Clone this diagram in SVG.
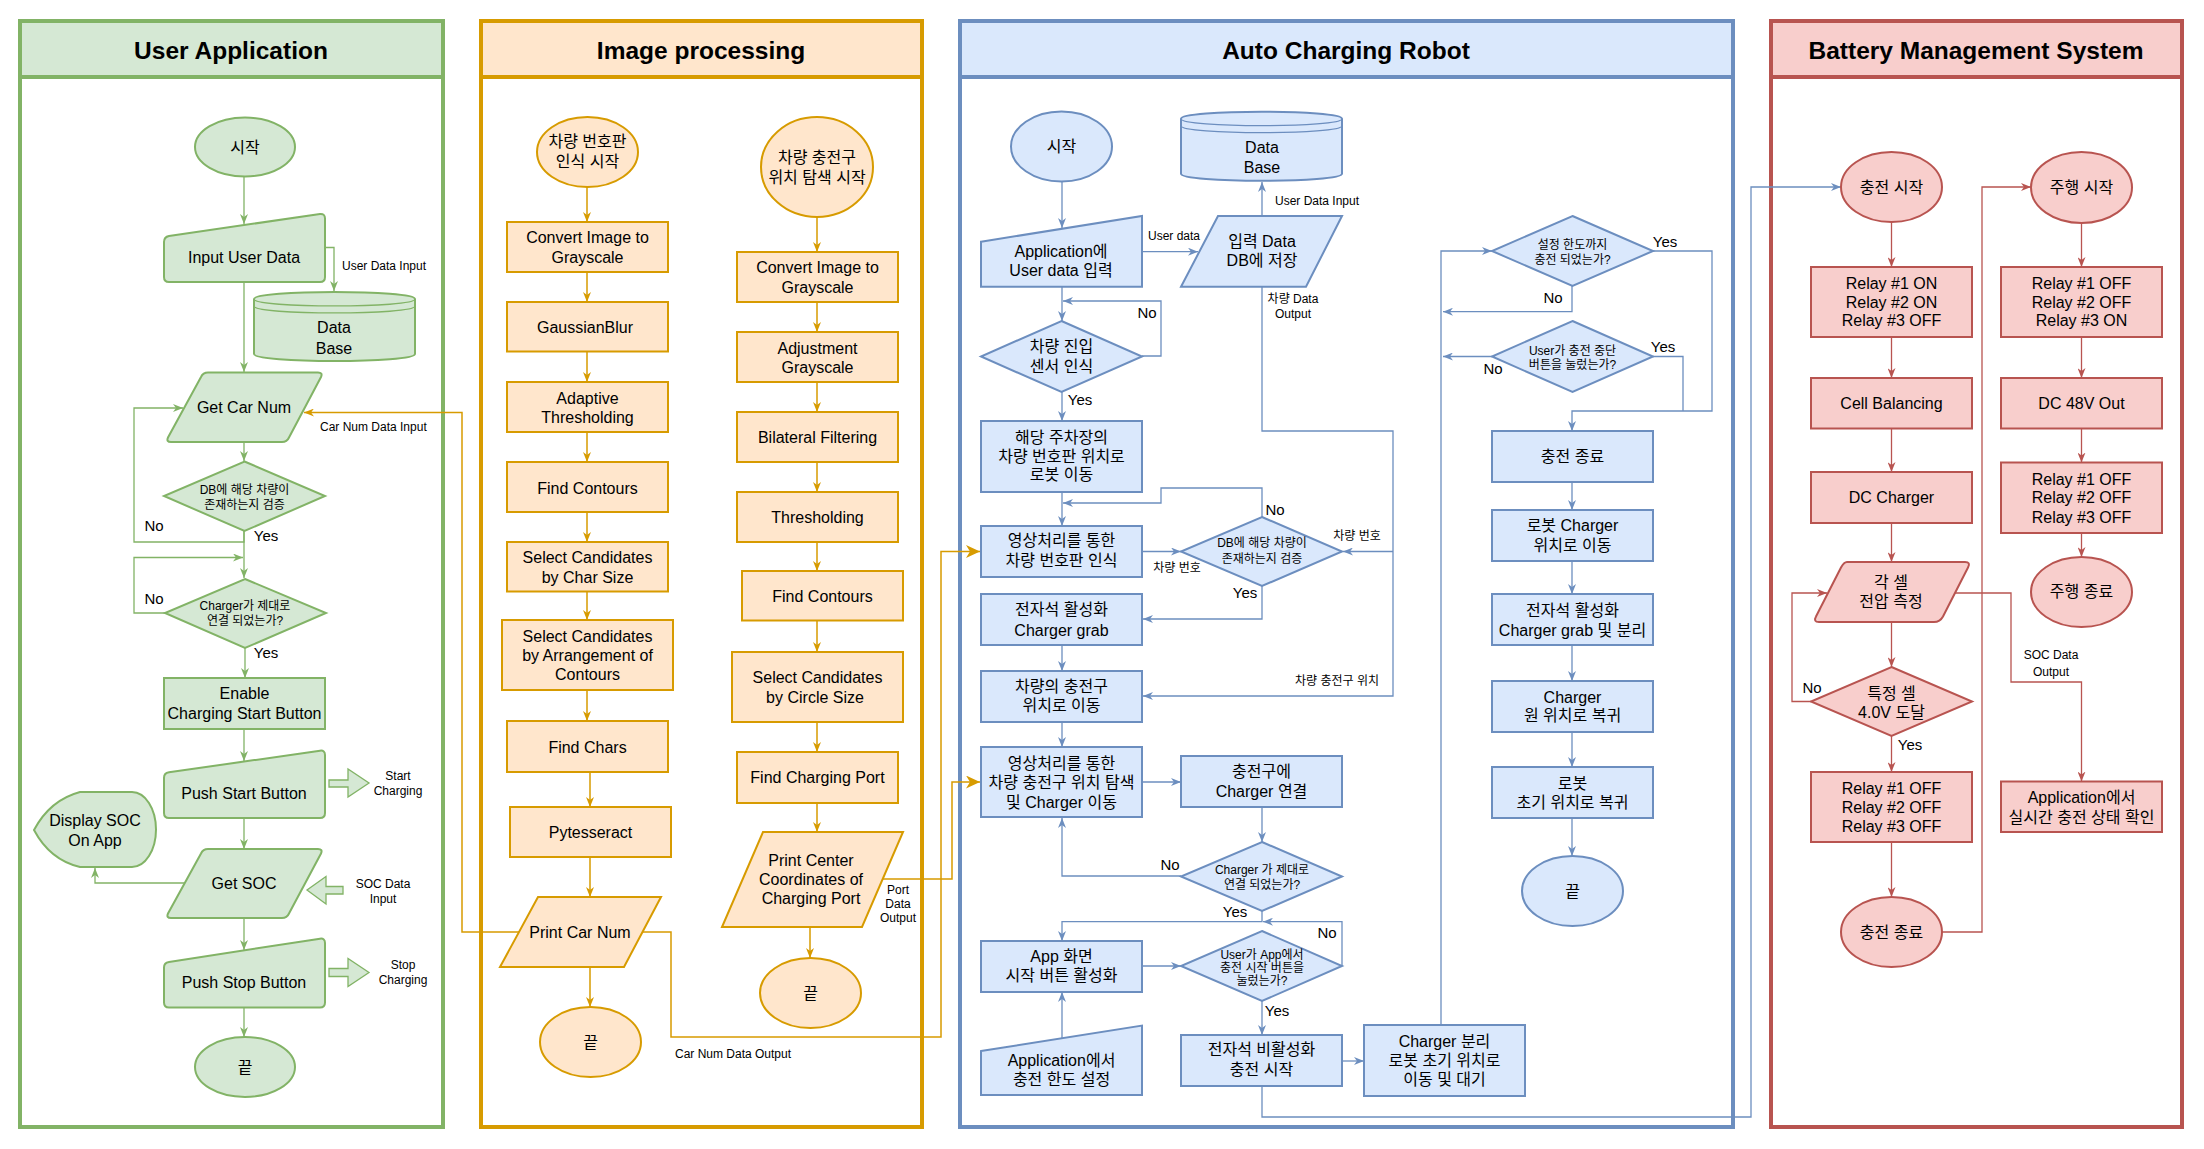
<svg xmlns="http://www.w3.org/2000/svg" width="2204" height="1149" viewBox="0 0 2204 1149">
<style>
text{font-family:'Liberation Sans','Noto Sans CJK KR',Arial,sans-serif;fill:#000}
.h{font-size:24.5px;font-weight:bold;text-anchor:middle;dominant-baseline:central}
.t{font-size:16px;text-anchor:middle;dominant-baseline:central}
.s{font-size:12px;text-anchor:middle;dominant-baseline:central}
.l{font-size:12px;text-anchor:start;dominant-baseline:central}
.yn{font-size:15px;text-anchor:middle;dominant-baseline:central}
.pg{fill:#d5e8d4;stroke:#82b366;stroke-width:2}
.po{fill:#ffe6cc;stroke:#d79b00;stroke-width:2}
.pb{fill:#dae8fc;stroke:#6c8ebf;stroke-width:2}
.pr{fill:#f8cecc;stroke:#b85450;stroke-width:2}
.cg{fill:none;stroke:#82b366;stroke-width:1.3}
.co{fill:none;stroke:#d79b00;stroke-width:1.5}
.cb{fill:none;stroke:#6c8ebf;stroke-width:1.3}
.cr{fill:none;stroke:#b85450;stroke-width:1.3}
.lane{fill:#fff;stroke-width:4}
</style>
<defs>
<marker id="aG" markerUnits="userSpaceOnUse" markerWidth="10" markerHeight="8" refX="10" refY="4" orient="auto" viewBox="0 0 10 8"><path d="M0,0 L10,4 L0,8 L3,4 Z" fill="#82b366"/></marker>
<marker id="aO" markerUnits="userSpaceOnUse" markerWidth="10" markerHeight="8" refX="10" refY="4" orient="auto" viewBox="0 0 10 8"><path d="M0,0 L10,4 L0,8 L3,4 Z" fill="#d79b00"/></marker>
<marker id="aO2" markerUnits="userSpaceOnUse" markerWidth="14" markerHeight="13" refX="14" refY="6.5" orient="auto" viewBox="0 0 14 13"><path d="M0,0 L14,6.5 L0,13 L4,6.5 Z" fill="#d79b00"/></marker>
<marker id="aB" markerUnits="userSpaceOnUse" markerWidth="10" markerHeight="8" refX="10" refY="4" orient="auto" viewBox="0 0 10 8"><path d="M0,0 L10,4 L0,8 L3,4 Z" fill="#6c8ebf"/></marker>
<marker id="aR" markerUnits="userSpaceOnUse" markerWidth="10" markerHeight="8" refX="10" refY="4" orient="auto" viewBox="0 0 10 8"><path d="M0,0 L10,4 L0,8 L3,4 Z" fill="#b85450"/></marker>
</defs>

<!-- Lanes -->
<g id="lane-user">
<rect class="lane" x="20" y="21" width="423" height="1106" stroke="#82b366"/>
<rect x="20" y="21" width="423" height="56" fill="#d5e8d4" stroke="#82b366" stroke-width="4"/>
<text class="h" x="231" y="50">User Application</text>
</g>
<g id="lane-image">
<rect class="lane" x="481" y="21" width="441" height="1106" stroke="#d79b00"/>
<rect x="481" y="21" width="441" height="56" fill="#ffe6cc" stroke="#d79b00" stroke-width="4"/>
<text class="h" x="701" y="50">Image processing</text>
</g>
<g id="lane-robot">
<rect class="lane" x="960" y="21" width="773" height="1106" stroke="#6c8ebf"/>
<rect x="960" y="21" width="773" height="56" fill="#dae8fc" stroke="#6c8ebf" stroke-width="4"/>
<text class="h" x="1346" y="50">Auto Charging Robot</text>
</g>
<g id="lane-bms">
<rect class="lane" x="1771" y="21" width="411" height="1106" stroke="#b85450"/>
<rect x="1771" y="21" width="411" height="56" fill="#f8cecc" stroke="#b85450" stroke-width="4"/>
<text class="h" x="1976" y="50">Battery Management System</text>
</g>

<!-- Connectors -->
<g id="connectors">
<!-- User app -->
<path class="cg" d="M244,177 L244,224" marker-end="url(#aG)"/>
<path class="cg" d="M244,282 L244,372" marker-end="url(#aG)"/>
<path class="cg" d="M325,247.5 L334,247.5 L334,291" marker-end="url(#aG)"/>
<path class="cg" d="M244,442 L244,461" marker-end="url(#aG)"/>
<path class="cg" d="M244,531 L244,542 L134,542 L134,408 L183,408" marker-end="url(#aG)"/>
<path class="cg" d="M244,531 L244,578" marker-end="url(#aG)"/>
<path class="cg" d="M165,613 L134,613 L134,557.5 L243,557.5" marker-end="url(#aG)"/>
<path class="cg" d="M245,648 L245,678" marker-end="url(#aG)"/>
<path class="cg" d="M244,729 L244,761" marker-end="url(#aG)"/>
<path class="cg" d="M244,818 L244,849" marker-end="url(#aG)"/>
<path class="cg" d="M244,918 L244,950" marker-end="url(#aG)"/>
<path class="cg" d="M244,1008 L244,1037" marker-end="url(#aG)"/>
<path class="cg" d="M185,883 L95,883 L95,868" marker-end="url(#aG)"/>
<path d="M329,780 L348,780 L348,769 L369,783 L348,797 L348,787 L329,787 Z" fill="#d5e8d4" stroke="#82b366" stroke-width="1.3"/>
<path d="M329,968.5 L348,968.5 L348,958.5 L369,972.5 L348,986.5 L348,976.5 L329,976.5 Z" fill="#d5e8d4" stroke="#82b366" stroke-width="1.3"/>
<path d="M343,886.5 L326,886.5 L326,876.5 L307,890 L326,904 L326,894 L343,894 Z" fill="#d5e8d4" stroke="#82b366" stroke-width="1.3"/>
<!-- Image processing -->
<path class="co" d="M587,187 L587,222" marker-end="url(#aO)"/>
<path class="co" d="M587,272 L587,302" marker-end="url(#aO)"/>
<path class="co" d="M587,351.5 L587,382" marker-end="url(#aO)"/>
<path class="co" d="M587,432 L587,462" marker-end="url(#aO)"/>
<path class="co" d="M587,512 L587,542" marker-end="url(#aO)"/>
<path class="co" d="M587,591.5 L587,620" marker-end="url(#aO)"/>
<path class="co" d="M587,690 L587,721" marker-end="url(#aO)"/>
<path class="co" d="M590,772 L590,807" marker-end="url(#aO)"/>
<path class="co" d="M590,857 L590,897" marker-end="url(#aO)"/>
<path class="co" d="M590,967 L590,1007" marker-end="url(#aO)"/>
<path class="co" d="M817,217 L817,252" marker-end="url(#aO)"/>
<path class="co" d="M817,302 L817,332" marker-end="url(#aO)"/>
<path class="co" d="M817,382 L817,412" marker-end="url(#aO)"/>
<path class="co" d="M817,462 L817,492" marker-end="url(#aO)"/>
<path class="co" d="M817,542 L817,571" marker-end="url(#aO)"/>
<path class="co" d="M817,620.5 L817,652" marker-end="url(#aO)"/>
<path class="co" d="M817,722 L817,752" marker-end="url(#aO)"/>
<path class="co" d="M817,803 L817,832" marker-end="url(#aO)"/>
<path class="co" d="M810,927 L810,958" marker-end="url(#aO)"/>
<path class="co" d="M519,932 L462,932 L462,412.5 L304,412.5" marker-end="url(#aO)"/>
<path class="co" d="M643,932 L671,932 L671,1037 L941,1037 L941,551.5 L980,551.5" marker-end="url(#aO2)"/>
<path class="co" d="M883,879 L952,879 L952,782 L980,782" marker-end="url(#aO2)"/>
<!-- Robot -->
<path class="cb" d="M1062,181 L1062,228" marker-end="url(#aB)"/>
<path class="cb" d="M1142,251.7 L1198,251.7" marker-end="url(#aB)"/>
<path class="cb" d="M1262,216 L1262,182" marker-end="url(#aB)"/>
<path class="cb" d="M1262,287 L1262,431 L1393,431 L1393,696 L1143,696" marker-end="url(#aB)"/>
<path class="cb" d="M1393,551.5 L1343,551.5" marker-end="url(#aB)"/>
<path class="cb" d="M1062,287 L1062,321" marker-end="url(#aB)"/>
<path class="cb" d="M1142,356 L1161,356 L1161,301 L1063,301" marker-end="url(#aB)"/>
<path class="cb" d="M1062,392 L1062,421" marker-end="url(#aB)"/>
<path class="cb" d="M1062,492 L1062,526" marker-end="url(#aB)"/>
<path class="cb" d="M1262,517 L1262,488 L1161,488 L1161,503 L1063,503" marker-end="url(#aB)"/>
<path class="cb" d="M1142,551.5 L1181,551.5" marker-end="url(#aB)"/>
<path class="cb" d="M1262,586 L1262,619 L1143,619" marker-end="url(#aB)"/>
<path class="cb" d="M1062,645 L1062,671" marker-end="url(#aB)"/>
<path class="cb" d="M1062,722 L1062,747" marker-end="url(#aB)"/>
<path class="cb" d="M1142,782 L1181,782" marker-end="url(#aB)"/>
<path class="cb" d="M1262,807 L1262,842" marker-end="url(#aB)"/>
<path class="cb" d="M1181,876 L1062,876 L1062,818" marker-end="url(#aB)"/>
<path class="cb" d="M1262,911 L1262,921.7 L1062,921.7 L1062,941" marker-end="url(#aB)"/>
<path class="cb" d="M1342,966 L1342,921.7 L1263,921.7" marker-end="url(#aB)"/>
<path class="cb" d="M1142,966 L1181,966" marker-end="url(#aB)"/>
<path class="cb" d="M1262,1001 L1262,1035" marker-end="url(#aB)"/>
<path class="cb" d="M1342,1061 L1364,1061" marker-end="url(#aB)"/>
<path class="cb" d="M1062,1038 L1062,992" marker-end="url(#aB)"/>
<path class="cb" d="M1441,1025 L1441,251 L1492,251" marker-end="url(#aB)" stroke="#9fb8dc"/>
<path class="cb" d="M1572,286 L1572,311.7 L1443,311.7" marker-end="url(#aB)"/>
<path class="cb" d="M1492,356.5 L1443,356.5" marker-end="url(#aB)"/>
<path class="cb" d="M1653,251 L1712,251 L1712,411 L1572,411 L1572,431" marker-end="url(#aB)"/>
<path class="cb" d="M1653,356.5 L1683,356.5 L1683,411"/>
<path class="cb" d="M1572,482 L1572,510" marker-end="url(#aB)"/>
<path class="cb" d="M1572,561 L1572,594" marker-end="url(#aB)"/>
<path class="cb" d="M1572,645 L1572,681" marker-end="url(#aB)"/>
<path class="cb" d="M1572,732 L1572,767" marker-end="url(#aB)"/>
<path class="cb" d="M1572,818 L1572,856" marker-end="url(#aB)"/>
<path class="cb" d="M1262,1086 L1262,1117 L1751,1117 L1751,187 L1841,187" marker-end="url(#aB)"/>
<!-- BMS -->
<path class="cr" d="M1891.5,222 L1891.5,267" marker-end="url(#aR)"/>
<path class="cr" d="M1891.5,337 L1891.5,378" marker-end="url(#aR)"/>
<path class="cr" d="M1891.5,428.5 L1891.5,472" marker-end="url(#aR)"/>
<path class="cr" d="M1891.5,523 L1891.5,562" marker-end="url(#aR)"/>
<path class="cr" d="M1891.5,622 L1891.5,667" marker-end="url(#aR)"/>
<path class="cr" d="M1891.5,736 L1891.5,772" marker-end="url(#aR)"/>
<path class="cr" d="M1891.5,842 L1891.5,897" marker-end="url(#aR)"/>
<path class="cr" d="M1811,701.5 L1792,701.5 L1792,593 L1827,593" marker-end="url(#aR)"/>
<path class="cr" d="M1942,932 L1982,932 L1982,187 L2031,187" marker-end="url(#aR)"/>
<path class="cr" d="M2081.5,223 L2081.5,267" marker-end="url(#aR)"/>
<path class="cr" d="M2081.5,337 L2081.5,378" marker-end="url(#aR)"/>
<path class="cr" d="M2081.5,428.5 L2081.5,462.5" marker-end="url(#aR)"/>
<path class="cr" d="M2081.5,533 L2081.5,557" marker-end="url(#aR)"/>
<path class="cr" d="M1954,593 L2011,593 L2011,682 L2081.5,682 L2081.5,781.5" marker-end="url(#aR)"/>
<!-- connector labels -->
<text class="l" x="342" y="266">User Data Input</text>
<text class="l" x="320" y="426.5">Car Num Data Input</text>
<text class="yn" x="154" y="525">No</text>
<text class="yn" x="266" y="535">Yes</text>
<text class="yn" x="154" y="598">No</text>
<text class="yn" x="266" y="652">Yes</text>
<text class="s" x="398" y="776">Start</text>
<text class="s" x="398" y="791">Charging</text>
<text class="s" x="383" y="884">SOC Data</text>
<text class="s" x="383" y="899">Input</text>
<text class="s" x="403" y="965">Stop</text>
<text class="s" x="403" y="980">Charging</text>
<text class="l" x="675" y="1054">Car Num Data Output</text>
<text class="s" x="898" y="889.5">Port</text>
<text class="s" x="898" y="903.5">Data</text>
<text class="s" x="898" y="918">Output</text>
<text class="l" x="1148" y="235.7">User data</text>
<text class="l" x="1275" y="200.7">User Data Input</text>
<text class="s" x="1293" y="299">차량 Data</text>
<text class="s" x="1293" y="314">Output</text>
<text class="yn" x="1147" y="312">No</text>
<text class="yn" x="1080" y="399">Yes</text>
<text class="yn" x="1275" y="509">No</text>
<text class="s" x="1177" y="568">차량 번호</text>
<text class="s" x="1357" y="536">차량 번호</text>
<text class="yn" x="1245" y="592">Yes</text>
<text class="s" x="1337" y="681">차량 충전구 위치</text>
<text class="yn" x="1170" y="864">No</text>
<text class="yn" x="1235" y="911">Yes</text>
<text class="yn" x="1327" y="932">No</text>
<text class="yn" x="1277" y="1010">Yes</text>
<text class="yn" x="1665" y="241">Yes</text>
<text class="yn" x="1553" y="297">No</text>
<text class="yn" x="1663" y="346.7">Yes</text>
<text class="yn" x="1493" y="368">No</text>
<text class="yn" x="1812" y="687">No</text>
<text class="yn" x="1910" y="744">Yes</text>
<text class="s" x="2051" y="655">SOC Data</text>
<text class="s" x="2051" y="671.6">Output</text>
</g>

<!-- User Application nodes -->
<g id="u-start"><ellipse class="pg" cx="245" cy="147" rx="50" ry="29.5"/><text class="t" x="245" y="147">시작</text></g>
<g id="u-input"><path class="pg" d="M164,242 Q164,237 169,236 L320,214 Q325,213.5 325,218.5 L325,277 Q325,282 320,282 L169,282 Q164,282 164,277 Z"/><text class="t" x="244" y="257">Input User Data</text></g>
<g id="u-db"><path class="pg" d="M254,299 C254,289.7 415,289.7 415,299 L415,354 C415,363.3 254,363.3 254,354 Z"/><path fill="none" stroke="#82b366" stroke-width="1.3" d="M254,299 C254,308.3 415,308.3 415,299 M254,306 C254,315.3 415,315.3 415,306"/><text class="t" x="334" y="327">Data</text><text class="t" x="334" y="348">Base</text></g>
<g id="u-getcar"><path class="pg" d="M208,372.5 L318,372.5 Q323,372.5 321,377 L289,437.5 Q287,442 282,442 L171,442 Q166,442 168,437.5 L201,377 Q203,372.5 208,372.5 Z"/><text class="t" x="244" y="407">Get Car Num</text></g>
<g id="u-dec1"><path class="pg" d="M244.5,461.5 L325,496 L244.5,531 L164,496 Z"/><text class="s" x="244.5" y="490">DB에 해당 차량이</text><text class="s" x="244.5" y="504.5">존재하는지 검증</text></g>
<g id="u-dec2"><path class="pg" d="M245,579 L326,613 L245,648 L165,613 Z"/><text class="s" x="245" y="606">Charger가 제대로</text><text class="s" x="245" y="620.5">연결 되었는가?</text></g>
<g id="u-enable"><rect class="pg" x="164" y="678" width="161" height="51"/><text class="t" x="244.5" y="693">Enable</text><text class="t" x="244.5" y="713">Charging Start Button</text></g>
<g id="u-pushstart"><path class="pg" d="M164,778 Q164,773 169,772.3 L320,750.7 Q325,750 325,755 L325,813 Q325,818 320,818 L169,818 Q164,818 164,813 Z"/><text class="t" x="244" y="793">Push Start Button</text></g>
<g id="u-display"><path class="pg" d="M80,792 L132,792 A24,37.5 0 0 1 132,867 L80,867 Q50,860 34,830 Q50,800 80,792 Z"/><text class="t" x="95" y="820">Display SOC</text><text class="t" x="95" y="840">On App</text></g>
<g id="u-getsoc"><path class="pg" d="M208,849 L318,849 Q323,849 321,853.5 L289,913.5 Q287,918 282,918 L171,918 Q166,918 168,913.5 L201,853.5 Q203,849 208,849 Z"/><text class="t" x="244" y="883">Get SOC</text></g>
<g id="u-pushstop"><path class="pg" d="M164,967.5 Q164,962.6 169,961.9 L320,938.7 Q325,938 325,943 L325,1002.6 Q325,1007.6 320,1007.6 L169,1007.6 Q164,1007.6 164,1002.6 Z"/><text class="t" x="244" y="982">Push Stop Button</text></g>
<g id="u-end"><ellipse class="pg" cx="245" cy="1067" rx="50" ry="30"/><text class="t" x="245" y="1067">끝</text></g>

<!-- Image processing nodes -->
<g id="i-start1"><ellipse class="po" cx="587.5" cy="152" rx="50.5" ry="35"/><text class="t" x="587.5" y="141.7">차량 번호판</text><text class="t" x="587.5" y="161.7">인식 시작</text></g>
<g id="i-gray1"><rect class="po" x="507" y="222" width="161" height="50"/><text class="t" x="587.5" y="237">Convert Image to</text><text class="t" x="587.5" y="257">Grayscale</text></g>
<g id="i-blur"><rect class="po" x="507" y="302" width="161" height="49.5"/><text class="t" x="585" y="327.5">GaussianBlur</text></g>
<g id="i-adapt"><rect class="po" x="507" y="382" width="161" height="50"/><text class="t" x="587.5" y="398">Adaptive</text><text class="t" x="587.5" y="417">Thresholding</text></g>
<g id="i-cont1"><rect class="po" x="507" y="462" width="161" height="50"/><text class="t" x="587.5" y="488">Find Contours</text></g>
<g id="i-charsize"><rect class="po" x="507" y="542" width="161" height="49.5"/><text class="t" x="587.5" y="557">Select Candidates</text><text class="t" x="587.5" y="577">by Char Size</text></g>
<g id="i-arrange"><rect class="po" x="502" y="620" width="171" height="70"/><text class="t" x="587.5" y="636">Select Candidates</text><text class="t" x="587.5" y="655">by Arrangement of</text><text class="t" x="587.5" y="674.5">Contours</text></g>
<g id="i-chars"><rect class="po" x="507" y="721" width="161" height="51"/><text class="t" x="587.5" y="747">Find Chars</text></g>
<g id="i-tess"><rect class="po" x="510" y="807" width="161" height="50"/><text class="t" x="590.5" y="832">Pytesseract</text></g>
<g id="i-printcar"><path class="po" d="M538,897 L661,897 L624,967 L500,967 Z"/><text class="t" x="580" y="932">Print Car Num</text></g>
<g id="i-end1"><ellipse class="po" cx="590.5" cy="1042" rx="50.5" ry="35"/><text class="t" x="590.5" y="1042">끝</text></g>
<g id="i-start2"><ellipse class="po" cx="817" cy="167" rx="56" ry="50"/><text class="t" x="817" y="157">차량 충전구</text><text class="t" x="817" y="177">위치 탐색 시작</text></g>
<g id="i-gray2"><rect class="po" x="737" y="252" width="161" height="50"/><text class="t" x="817.5" y="267.5">Convert Image to</text><text class="t" x="817.5" y="287.5">Grayscale</text></g>
<g id="i-adj"><rect class="po" x="737" y="332" width="161" height="50"/><text class="t" x="817.5" y="348">Adjustment</text><text class="t" x="817.5" y="367">Grayscale</text></g>
<g id="i-bilat"><rect class="po" x="737" y="412" width="161" height="50"/><text class="t" x="817.5" y="437.5">Bilateral Filtering</text></g>
<g id="i-thr"><rect class="po" x="737" y="492" width="161" height="50"/><text class="t" x="817.5" y="517">Thresholding</text></g>
<g id="i-cont2"><rect class="po" x="742" y="571" width="161" height="49.5"/><text class="t" x="822.5" y="596">Find Contours</text></g>
<g id="i-circle"><rect class="po" x="732" y="652" width="171" height="70"/><text class="t" x="817.5" y="677">Select Candidates</text><text class="t" x="815" y="697">by Circle Size</text></g>
<g id="i-port"><rect class="po" x="737" y="752" width="161" height="51"/><text class="t" x="817.5" y="777.5">Find Charging Port</text></g>
<g id="i-printport"><path class="po" d="M763,832 L903,832 L862,927 L722,927 Z"/><text class="t" x="811" y="860.5">Print Center</text><text class="t" x="811" y="879">Coordinates of</text><text class="t" x="811" y="898">Charging Port</text></g>
<g id="i-end2"><ellipse class="po" cx="810.5" cy="993" rx="50.5" ry="35"/><text class="t" x="810.5" y="993">끝</text></g>

<!-- Robot nodes -->
<g id="r-start"><ellipse class="pb" cx="1061.5" cy="146.5" rx="50.5" ry="35"/><text class="t" x="1061.5" y="146.5">시작</text></g>
<g id="r-db"><path class="pb" d="M1181,118.7 C1181,109.4 1342,109.4 1342,118.7 L1342,173.7 C1342,183 1181,183 1181,173.7 Z"/><path fill="none" stroke="#6c8ebf" stroke-width="1.3" d="M1181,118.7 C1181,128 1342,128 1342,118.7 M1181,125.7 C1181,135 1342,135 1342,125.7"/><text class="t" x="1262" y="147">Data</text><text class="t" x="1262" y="167">Base</text></g>
<g id="r-appinput"><path class="pb" d="M981,241.7 L1142,216 L1142,286.7 L981,286.7 Z"/><text class="t" x="1061" y="251.7">Application에</text><text class="t" x="1061" y="270.7">User data 입력</text></g>
<g id="r-save"><path class="pb" d="M1218,216 L1342,216 L1306,286.7 L1181,286.7 Z"/><text class="t" x="1262" y="241.7">입력 Data</text><text class="t" x="1262" y="260.7">DB에 저장</text></g>
<g id="r-sensor"><path class="pb" d="M1061.5,321 L1142,356.5 L1061.5,392 L981,356.5 Z"/><text class="t" x="1061.5" y="346">차량 진입</text><text class="t" x="1061.5" y="366.7">센서 인식</text></g>
<g id="r-move1"><rect class="pb" x="981" y="421" width="161" height="71"/><text class="t" x="1061.5" y="437">해당 주차장의</text><text class="t" x="1061.5" y="456">차량 번호판 위치로</text><text class="t" x="1061.5" y="474.5">로봇 이동</text></g>
<g id="r-plate"><rect class="pb" x="981" y="526" width="161" height="51"/><text class="t" x="1061.5" y="540.7">영상처리를 통한</text><text class="t" x="1061.5" y="560.7">차량 번호판 인식</text></g>
<g id="r-dbcheck"><path class="pb" d="M1262,517 L1342,551.5 L1262,586 L1181,551.5 Z"/><text class="s" x="1262" y="543">DB에 해당 차량이</text><text class="s" x="1262" y="559">존재하는지 검증</text></g>
<g id="r-grab"><rect class="pb" x="981" y="594" width="161" height="51"/><text class="t" x="1061.5" y="609.6">전자석 활성화</text><text class="t" x="1061.5" y="630">Charger grab</text></g>
<g id="r-moveport"><rect class="pb" x="981" y="671" width="161" height="51"/><text class="t" x="1061.5" y="686">차량의 충전구</text><text class="t" x="1061.5" y="705.7">위치로 이동</text></g>
<g id="r-portdetect"><rect class="pb" x="981" y="747" width="161" height="70"/><text class="t" x="1061.5" y="763">영상처리를 통한</text><text class="t" x="1061.5" y="782">차량 충전구 위치 탐색</text><text class="t" x="1061.5" y="802">및 Charger 이동</text></g>
<g id="r-connect"><rect class="pb" x="1181" y="756" width="161" height="51"/><text class="t" x="1261.5" y="771">충전구에</text><text class="t" x="1261.5" y="791">Charger 연결</text></g>
<g id="r-conncheck"><path class="pb" d="M1262,842 L1342,876.5 L1262,911 L1181,876.5 Z"/><text class="s" x="1262" y="870">Charger 가 제대로</text><text class="s" x="1262" y="885">연결 되었는가?</text></g>
<g id="r-appbtn"><rect class="pb" x="981" y="941" width="161" height="51"/><text class="t" x="1061.5" y="956">App 화면</text><text class="t" x="1061.5" y="975">시작 버튼 활성화</text></g>
<g id="r-btncheck"><path class="pb" d="M1262,931 L1342,966 L1262,1001 L1181,966 Z"/><text class="s" x="1262" y="955">User가 App에서</text><text class="s" x="1262" y="967.5">충전 시작 버튼을</text><text class="s" x="1262" y="980.5">눌렀는가?</text></g>
<g id="r-limit"><path class="pb" d="M981,1051 L1142,1025.6 L1142,1095 L981,1095 Z"/><text class="t" x="1061.5" y="1060">Application에서</text><text class="t" x="1061.5" y="1079">충전 한도 설정</text></g>
<g id="r-release"><rect class="pb" x="1181" y="1035" width="161" height="51"/><text class="t" x="1261.5" y="1049.5">전자석 비활성화</text><text class="t" x="1261.5" y="1069">충전 시작</text></g>
<g id="r-detach"><rect class="pb" x="1364" y="1025" width="161" height="71"/><text class="t" x="1444.5" y="1041">Charger 분리</text><text class="t" x="1444.5" y="1060">로봇 초기 위치로</text><text class="t" x="1444.5" y="1079">이동 및 대기</text></g>
<g id="r-limitcheck"><path class="pb" d="M1572.5,216 L1653,251 L1572.5,286 L1492,251 Z"/><text class="s" x="1572.5" y="245">설정 한도까지</text><text class="s" x="1572.5" y="260">충전 되었는가?</text></g>
<g id="r-stopcheck"><path class="pb" d="M1572.5,321 L1653,356.5 L1572.5,392 L1492,356.5 Z"/><text class="s" x="1572.5" y="350.7">User가 충전 중단</text><text class="s" x="1572.5" y="365">버튼을 눌렀는가?</text></g>
<g id="r-chgend"><rect class="pb" x="1492" y="431" width="161" height="51"/><text class="t" x="1572.5" y="456">충전 종료</text></g>
<g id="r-tocharger"><rect class="pb" x="1492" y="510" width="161" height="51"/><text class="t" x="1572.5" y="525.7">로봇 Charger</text><text class="t" x="1572.5" y="545">위치로 이동</text></g>
<g id="r-grab2"><rect class="pb" x="1492" y="594" width="161" height="51"/><text class="t" x="1572.5" y="610">전자석 활성화</text><text class="t" x="1572.5" y="630">Charger grab 및 분리</text></g>
<g id="r-return1"><rect class="pb" x="1492" y="681" width="161" height="51"/><text class="t" x="1572.5" y="697">Charger</text><text class="t" x="1572.5" y="715">원 위치로 복귀</text></g>
<g id="r-return2"><rect class="pb" x="1492" y="767" width="161" height="51"/><text class="t" x="1572.5" y="783">로봇</text><text class="t" x="1572.5" y="802">초기 위치로 복귀</text></g>
<g id="r-end"><ellipse class="pb" cx="1572.5" cy="891" rx="50.5" ry="35"/><text class="t" x="1572.5" y="891">끝</text></g>

<!-- BMS nodes -->
<g id="b-start"><ellipse class="pr" cx="1891.5" cy="187" rx="50.5" ry="35"/><text class="t" x="1891.5" y="187">충전 시작</text></g>
<g id="b-relayon"><rect class="pr" x="1811" y="267" width="161" height="70"/><text class="t" x="1891.5" y="283.5">Relay #1 ON</text><text class="t" x="1891.5" y="302">Relay #2 ON</text><text class="t" x="1891.5" y="320.5">Relay #3 OFF</text></g>
<g id="b-balance"><rect class="pr" x="1811" y="378" width="161" height="50.5"/><text class="t" x="1891.5" y="403">Cell Balancing</text></g>
<g id="b-dc"><rect class="pr" x="1811" y="472" width="161" height="51"/><text class="t" x="1891.5" y="497.5">DC Charger</text></g>
<g id="b-measure"><path class="pr" d="M1847,562 L1965,562 Q1971,562 1968,567.5 L1943,616.5 Q1940,622 1934,622 L1819,622 Q1813,622 1816,616.5 L1841,567.5 Q1844,562 1847,562 Z"/><text class="t" x="1891" y="582.5">각 셀</text><text class="t" x="1891" y="601">전압 측정</text></g>
<g id="b-check"><path class="pr" d="M1891.5,667 L1972,701.5 L1891.5,736 L1811,701.5 Z"/><text class="t" x="1891.5" y="693">특정 셀</text><text class="t" x="1891.5" y="712">4.0V 도달</text></g>
<g id="b-relayoff"><rect class="pr" x="1811" y="772" width="161" height="70"/><text class="t" x="1891.5" y="788">Relay #1 OFF</text><text class="t" x="1891.5" y="807">Relay #2 OFF</text><text class="t" x="1891.5" y="826">Relay #3 OFF</text></g>
<g id="b-chgend"><ellipse class="pr" cx="1891.5" cy="932" rx="50.5" ry="35"/><text class="t" x="1891.5" y="932">충전 종료</text></g>
<g id="b-drive"><ellipse class="pr" cx="2081.5" cy="187.5" rx="50.5" ry="35.5"/><text class="t" x="2081.5" y="187">주행 시작</text></g>
<g id="b-relay3on"><rect class="pr" x="2001" y="267" width="161" height="70"/><text class="t" x="2081.5" y="283.5">Relay #1 OFF</text><text class="t" x="2081.5" y="302">Relay #2 OFF</text><text class="t" x="2081.5" y="320.5">Relay #3 ON</text></g>
<g id="b-48v"><rect class="pr" x="2001" y="378" width="161" height="50.5"/><text class="t" x="2081.5" y="403">DC 48V Out</text></g>
<g id="b-relayoff2"><rect class="pr" x="2001" y="462.5" width="161" height="70.5"/><text class="t" x="2081.5" y="479">Relay #1 OFF</text><text class="t" x="2081.5" y="497.5">Relay #2 OFF</text><text class="t" x="2081.5" y="517">Relay #3 OFF</text></g>
<g id="b-driveend"><ellipse class="pr" cx="2081.5" cy="592" rx="50.5" ry="35"/><text class="t" x="2081.5" y="591">주행 종료</text></g>
<g id="b-app"><rect class="pr" x="2001" y="781.5" width="161" height="50.5"/><text class="t" x="2081.5" y="797">Application에서</text><text class="t" x="2081.5" y="817">실시간 충전 상태 확인</text></g>
</svg>
